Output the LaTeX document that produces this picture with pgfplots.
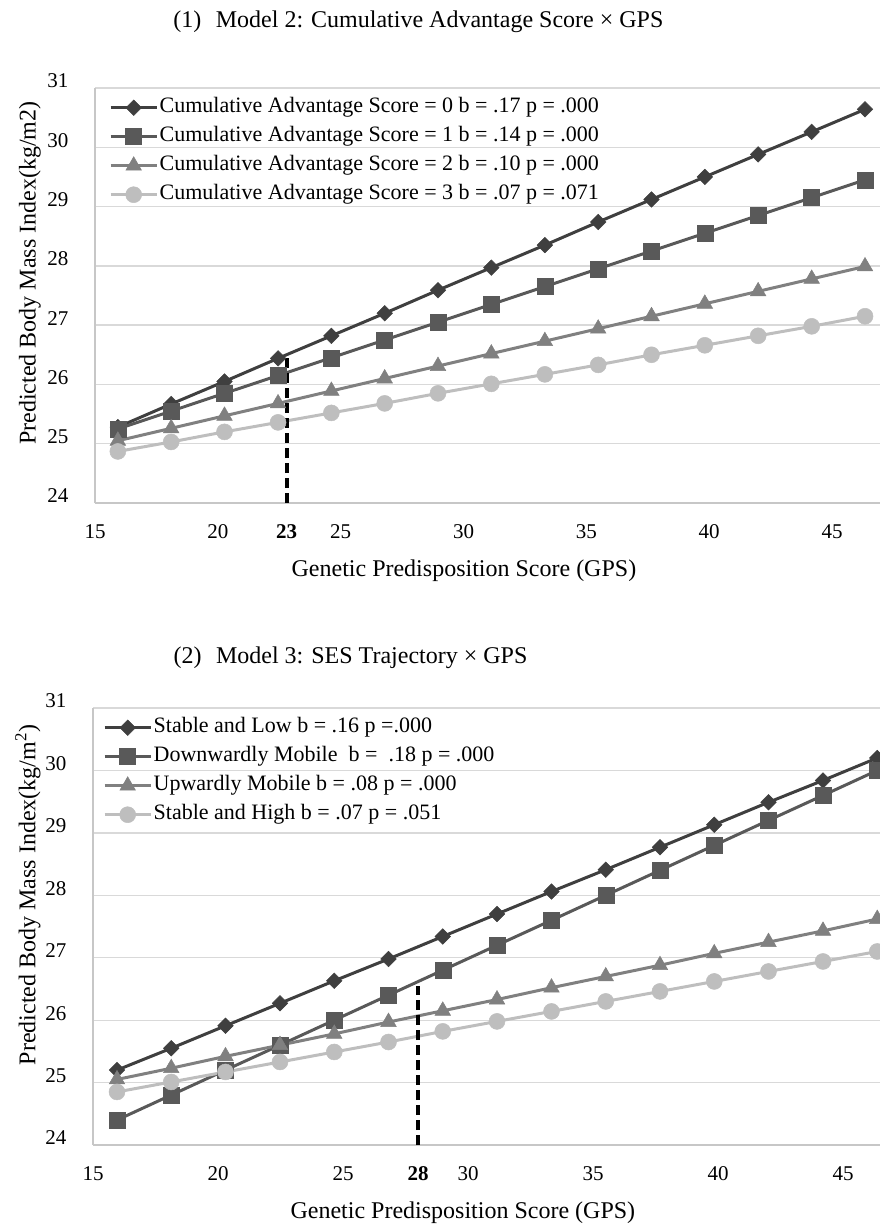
\documentclass[border=0pt]{standalone}
\usepackage{fontspec}
\setmainfont{Liberation Serif}
\usepackage{pgfplots}
\usepackage{pgfplotstable}
\pgfplotsset{compat=1.18}

\definecolor{cA}{HTML}{3F3F3F}
\definecolor{cB}{HTML}{595959}
\definecolor{cC}{HTML}{808080}
\definecolor{cD}{HTML}{BEBEBE}

\pgfplotstableread{
x     d0    d1    d2    d3
15.93 25.28 25.25 25.05 24.87
18.10 25.67 25.55 25.26 25.03
20.27 26.05 25.85 25.47 25.20
22.45 26.44 26.15 25.68 25.36
24.62 26.82 26.45 25.89 25.52
26.79 27.20 26.75 26.10 25.68
28.96 27.59 27.05 26.31 25.85
31.13 27.97 27.35 26.52 26.01
33.31 28.35 27.65 26.73 26.17
35.48 28.74 27.95 26.94 26.33
37.65 29.12 28.25 27.15 26.50
39.82 29.50 28.55 27.36 26.66
41.99 29.88 28.85 27.57 26.82
44.17 30.26 29.15 27.78 26.98
46.34 30.64 29.45 27.99 27.15
}\modeltwo

\pgfplotstableread{
x     s0    s1    s2    s3
15.96 25.20 24.40 25.05 24.85
18.13 25.55 24.80 25.23 25.01
20.30 25.91 25.20 25.42 25.17
22.48 26.27 25.60 25.60 25.33
24.65 26.63 26.00 25.78 25.49
26.82 26.98 26.40 25.97 25.65
28.99 27.34 26.80 26.15 25.82
31.16 27.70 27.20 26.33 25.98
33.34 28.06 27.60 26.52 26.14
35.51 28.41 28.00 26.70 26.30
37.68 28.77 28.40 26.88 26.46
39.85 29.13 28.80 27.07 26.62
42.02 29.49 29.20 27.25 26.78
44.20 29.84 29.60 27.43 26.94
46.37 30.20 30.00 27.62 27.10
}\modelthree

\newcommand{\tickfont}{\fontsize{21bp}{25bp}\selectfont}

\pgfplotsset{
  bmistyle/.style={
    scale only axis,
    axis x line=bottom, axis y line=left,
    axis line style={-, draw=black!22, line width=1.3bp},
    ymin=24, ymax=31, ytick={24,25,...,31},
    xtick={15,20,25,30,35,40,45},
    major tick length=0pt,
    ymajorgrids,
    grid style={draw=black!15, line width=1.3bp},
    /pgf/number format/assume math mode=true,
    yticklabel style={font=\tickfont, anchor=east, xshift=-23bp, yshift=7bp},
    xticklabel style={font=\tickfont, anchor=north, yshift=-18bp},
    xlabel style={font=\fontsize{24bp}{28bp}\selectfont, anchor=center, yshift=-68bp},
    ylabel style={font=\fontsize{24bp}{28bp}\selectfont, anchor=center},
    title style={font=\fontsize{24bp}{28bp}\selectfont, anchor=west},
    legend cell align=left,
    legend image code/.code={\draw[mark repeat=2,mark phase=2] plot coordinates {(0bp,0bp) (23bp,0bp) (46bp,0bp)};},
    legend style={draw=none, fill=none, anchor=north west, inner sep=0pt,
      font=\fontsize{22bp}{26bp}\selectfont, row sep=0pt,
      nodes={inner xsep=1.5bp, inner ysep=4.5bp, text height=15bp, text depth=5bp}},
  },
  sA/.style={color=cA, line width=3bp, mark=square*, mark size=5.5bp, mark options={rotate=45, solid, line width=0.5bp}},
  sB/.style={color=cB, line width=3bp, mark=square*, mark size=8bp, mark options={solid, line width=0.5bp}},
  sC/.style={color=cC, line width=3bp, mark=triangle*, mark size=9bp, mark options={solid, line width=0.5bp}},
  sD/.style={color=cD, line width=3bp, mark=*, mark size=8bp, mark options={solid, line width=0.5bp}},
  cut/.style={black, line width=4bp, dash pattern=on 10bp off 5bp, forget plot},
}

\begin{document}
\begin{tikzpicture}
\path[use as bounding box] (0,0) rectangle (880bp,-1226bp);
\clip (0,0) rectangle (880bp,-1226bp);

\begin{axis}[
  bmistyle,
  width=785bp, height=415bp,
  at={(95bp,-88bp)}, anchor=north west,
  xmin=15, xmax=46.95,
  extra x ticks={22.8}, extra x tick labels={\textbf{23}},
  extra x tick style={grid=none},
  title={(1)\hspace{0.6em}Model 2: Cumulative Advantage Score × GPS},
  title style={at={(axis description cs:0.0955,1)}, yshift=60bp},
  xlabel={Genetic Predisposition Score (GPS)},
  xlabel style={at={(axis description cs:0.47,0)}},
  ylabel={Predicted Body Mass Index(kg/m2)},
  ylabel style={at={([xshift=-65bp]axis description cs:0,0.554)}},
  legend style={at={(axis description cs:0,1)}, xshift=14bp, yshift=-5bp},
]
\addplot[sA] table[x=x, y=d0] {\modeltwo};
\addlegendentry{Cumulative Advantage Score = 0 b = .17 p = .000}
\addplot[sB] table[x=x, y=d1] {\modeltwo};
\addlegendentry{Cumulative Advantage Score = 1 b = .14 p = .000}
\addplot[sC] table[x=x, y=d2] {\modeltwo};
\addlegendentry{Cumulative Advantage Score = 2 b = .10 p = .000}
\addplot[sD] table[x=x, y=d3] {\modeltwo};
\addlegendentry{Cumulative Advantage Score = 3 b = .07 p = .071}
\addplot[cut] coordinates {(22.8,24) (22.8,26.5)};
\end{axis}

\begin{axis}[
  bmistyle,
  width=787bp, height=437bp,
  at={(93bp,-708bp)}, anchor=north west,
  xmin=15, xmax=46.48,
  extra x ticks={28}, extra x tick labels={\textbf{28}},
  extra x tick style={grid=none},
  title={(2)\hspace{0.6em}Model 3: SES Trajectory × GPS},
  title style={at={(axis description cs:0.098,1)}, yshift=44bp},
  xlabel={Genetic Predisposition Score (GPS)},
  xlabel style={at={(axis description cs:0.47,0)}},
  ylabel={Predicted Body Mass Index(kg/m\textsuperscript{2})},
  ylabel style={at={([xshift=-65bp]axis description cs:0,0.572)}},
  legend style={at={(axis description cs:0,1)}, xshift=10bp, yshift=-5bp},
]
\addplot[sA] table[x=x, y=s0] {\modelthree};
\addlegendentry{Stable and Low b = .16 p =.000}
\addplot[sB] table[x=x, y=s1] {\modelthree};
\addlegendentry{Downwardly Mobile~ b =~ .18 p = .000}
\addplot[sC] table[x=x, y=s2] {\modelthree};
\addlegendentry{Upwardly Mobile b = .08 p = .000}
\addplot[sD] table[x=x, y=s3] {\modelthree};
\addlegendentry{Stable and High b = .07 p = .051}
\addplot[cut] coordinates {(28,24) (28,26.55)};
\end{axis}
\end{tikzpicture}
\end{document}
